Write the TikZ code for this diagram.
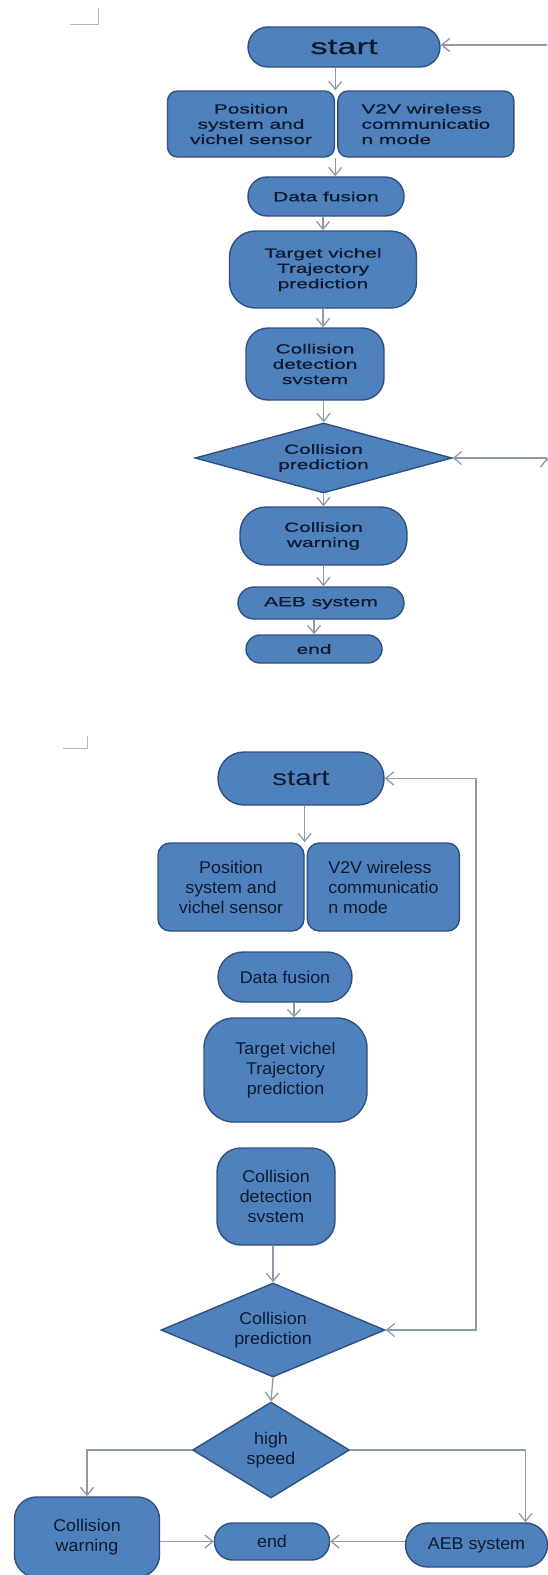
\documentclass[tikz,border=0pt]{standalone}
\usepackage{fontspec}
\setmainfont{Liberation Sans}
\newfontfamily\wideA[FakeStretch=1.57,FakeBold=0.8]{Liberation Sans}
\newfontfamily\wideB[FakeStretch=1.05]{Liberation Sans}
\newfontfamily\wideC[FakeStretch=1.34]{Liberation Sans}
\usetikzlibrary{arrows.meta,shapes.geometric,positioning}
\definecolor{boxblue}{HTML}{4F81BD}
\definecolor{boxline}{HTML}{2F5180}
\definecolor{flowgray}{HTML}{8E9AA8}
\definecolor{inkblue}{HTML}{0E1A30}
\definecolor{markgray}{HTML}{B8B8B8}
\tikzset{>={Straight Barb[length=8pt,width=13pt]}, arrows={->}}
\tikzset{
  blk/.style={rectangle, draw=boxline, fill=boxblue, line width=1.4pt,
    text=inkblue, align=center, inner sep=0pt},
  pill/.style={blk, rounded corners=#1},
  decide/.style={blk, diamond, shape aspect=#1},
  upper/.style={font=\wideA\fontsize{13.3}{15.3}\selectfont},
  lower/.style={font=\wideB\fontsize{17}{20}\selectfont},
  flow/.style={draw=flowgray, line width=1.3pt},
  cornermark/.style={draw=markgray, line width=0.8pt, arrows=-}
}

\begin{document}
\begin{tikzpicture}[x=1pt, y=-1pt]
  \useasboundingbox (0,0) rectangle (547,1575);

  % upper chart
  \draw[cornermark] (70,24) -- (98,24) -- (98,8);
  \node[pill=20, font=\wideA\fontsize{22}{24}\selectfont, minimum width=192, minimum height=40] (start) at (344,47) {start};
  \node[pill=10, upper, minimum width=167, minimum height=66] (pos) at (251,124) {Position\\system and\\vichel sensor};
  \node[pill=10, upper, align=left, minimum width=176, minimum height=66] (v2v) [right=2pt of pos] {V2V wireless\\communicatio\\n mode};
  \node[pill=19, upper, minimum width=156, minimum height=39] (fusion) at (326,196.5) {Data fusion};
  \node[pill=26, upper, minimum width=187, minimum height=77] (target) at (323,269.5) {Target vichel\\Trajectory\\prediction};
  \node[pill=22, upper, minimum width=138, minimum height=72] (detect) at (315,364) {Collision\\detection\\svstem};
  \node[decide=3.5, upper, minimum width=257, minimum height=70] (pred) at (323.5,458) {Collision\\prediction};
  \node[pill=26, upper, minimum width=167, minimum height=58] (warn) at (323.5,536) {Collision\\warning};
  \node[pill=16, upper, minimum width=166, minimum height=32] (aeb) at (321,603) {AEB system};
  \node[pill=14, upper, minimum width=136, minimum height=28] (stop) at (314,649) {end};
  \coordinate (in1) at (547,45);
  \coordinate (in2) at (547,458);

  \path[flow] (pos.east |- start.south) edge (pos.north east)
              (pos.south east) edge (pos.east |- fusion.north)
              (fusion.south -| target.north) edge (target.north)
              (target.south) edge (target.south |- detect.north)
              (detect.south -| pred.north) edge (pred.north)
              (pred.south) edge (warn.north)
              (warn.south) edge (warn.south |- aeb.north)
              (stop.north |- aeb.south) edge (stop.north)
              (in1) edge (in1 -| start.east)
              (in2) edge (pred.east);

  % lower chart
  \draw[cornermark] (63,748) -- (87,748) -- (87,736);
  \node[pill=26, font=\wideC\fontsize{22}{24}\selectfont, minimum width=166, minimum height=53] (start2) at (301,778.5) {start};
  \node[pill=12, lower, minimum width=146, minimum height=88] (pos2) at (231,887) {Position\\system and\\vichel sensor};
  \node[pill=12, lower, align=left, minimum width=152, minimum height=88] (v2v2) [right=2pt of pos2] {V2V wireless\\communicatio\\n mode};
  \node[pill=25, lower, minimum width=134, minimum height=50] (fusion2) at (285,977) {Data fusion};
  \node[pill=30, lower, minimum width=163, minimum height=104] (target2) at (285.5,1070) {Target vichel\\Trajectory\\prediction};
  \node[pill=24, lower, minimum width=118, minimum height=97] (detect2) at (276,1196.5) {Collision\\detection\\svstem};
  \node[decide=2.3, lower, minimum width=224, minimum height=94] (pred2) at (273,1330) {Collision\\prediction};
  \node[decide=1.6, lower, minimum width=157, minimum height=96] (fast) at (271,1450) {high\\speed};
  \node[pill=22, lower, minimum width=145, minimum height=80] (warn2) at (87,1537) {Collision\\warning};
  \node[pill=18, lower, minimum width=115, minimum height=37] (stop2) at (272,1541.5) {end};
  \node[pill=22, lower, minimum width=142, minimum height=44] (aeb2) at (476.5,1545) {AEB system};
  \coordinate (loop) at (476,783);
  \coordinate (drop) at (294,0);

  \draw[flow] (start2.south -| pos2.east) -- (pos2.north east);
  \draw[flow, -{Straight Barb[length=7pt,width=13pt]}] (fusion2.south -| drop) -- (target2.north -| drop);
  \draw[flow, <->] (start2.east) -- (start2.east -| loop) |- (pred2.east);
  \draw[flow] (detect2.south -| pred2.north) -- (pred2.north);
  \draw[flow] (pred2.south) -- (fast.north);
  \draw[flow] (fast.west) -| (warn2.north);
  \draw[flow] (fast.east) -| ([xshift=49pt]aeb2.north);
  \draw[flow] (warn2.east |- stop2.west) -- (stop2.west);
  \draw[flow] (aeb2.west |- stop2.east) -- (stop2.east);
\end{tikzpicture}
\end{document}
